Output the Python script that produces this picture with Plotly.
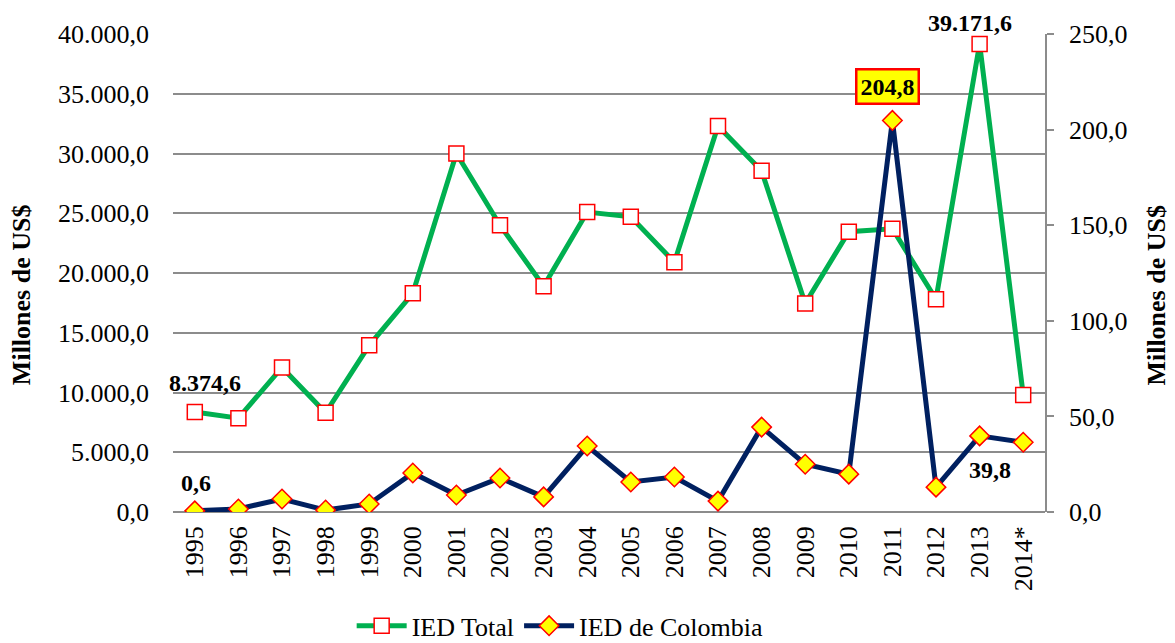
import plotly.graph_objects as go

years = ["1995", "1996", "1997", "1998", "1999", "2000", "2001", "2002", "2003", "2004",
         "2005", "2006", "2007", "2008", "2009", "2010", "2011", "2012", "2013", "2014*"]
ied_total = [8374.6, 7850, 12100, 8300, 13950, 18300, 30000, 24000, 18900, 25100,
             24700, 20900, 32300, 28550, 17450, 23460, 23700, 17800, 39171.6, 9800]
ied_colombia = [0.6, 1.6, 6.8, 1.0, 4.2, 20.4, 8.9, 17.8, 7.9, 34.5,
                15.7, 18.3, 5.7, 44.4, 25.0, 19.8, 204.8, 13.0, 39.8, 36.5]

left_ticks = [0, 5000, 10000, 15000, 20000, 25000, 30000, 35000, 40000]
right_ticks = [0, 50, 100, 150, 200, 250]

FONT = "Liberation Serif"
GRID = "#8c8c8c"
FS = 26

def fmt(v):
    s = f"{v:,.1f}"
    return s.replace(",", "X").replace(".", ",").replace("X", ".")

fig = go.Figure()
fig.add_trace(go.Scatter(
    x=years, y=ied_total, name="IED Total", mode="lines+markers",
    line=dict(color="#00B050", width=5),
    marker=dict(symbol="square", size=15, color="white", line=dict(color="#FF0000", width=1.5)),
    yaxis="y"))
fig.add_trace(go.Scatter(
    x=years, y=ied_colombia, name="IED de Colombia", mode="lines+markers",
    line=dict(color="#002060", width=5),
    marker=dict(symbol="diamond", size=15, color="#FFFF00", line=dict(color="#FF0000", width=1.5)),
    yaxis="y2"))

ann = []
afont = dict(family=FONT, size=24, color="black", weight="bold")
ann.append(dict(x=0, y=ied_total[0], xref="x", yref="y", text=fmt(ied_total[0]),
                showarrow=False, xshift=10, yshift=29, font=afont))
ann.append(dict(x=0, y=ied_colombia[0], xref="x", yref="y2", text=fmt(ied_colombia[0]),
                showarrow=False, xshift=1, yshift=28, font=afont))
ann.append(dict(x=18, y=ied_total[18], xref="x", yref="y", text=fmt(ied_total[18]),
                showarrow=False, xshift=-10, yshift=21, font=afont))
ann.append(dict(x=18, y=ied_colombia[18], xref="x", yref="y2", text=fmt(ied_colombia[18]),
                showarrow=False, xshift=10, yshift=-34, font=afont))
ann.append(dict(x=16, y=ied_colombia[16], xref="x", yref="y2", text=fmt(ied_colombia[16]),
                showarrow=False, xshift=-5, yshift=34, font=afont,
                bgcolor="#FFFF00", bordercolor="#FF0000", borderwidth=2.5, borderpad=3))
tfont = dict(family=FONT, size=FS, color="black", weight="bold")
ann.append(dict(x=-0.173, y=0.454, xref="paper", yref="paper", text="Millones de US$",
                xanchor="center", yanchor="middle",
                textangle=-90, showarrow=False, font=tfont))
ann.append(dict(x=1.128, y=0.454, xref="paper", yref="paper", text="Millones de US$",
                xanchor="center", yanchor="middle",
                textangle=-90, showarrow=False, font=tfont))

fig.update_layout(
    width=1167, height=635,
    margin=dict(l=165, r=130, t=26, b=131, autoexpand=False),
    paper_bgcolor="white", plot_bgcolor="white",
    font=dict(family=FONT, size=FS, color="black"),
    separators=",.",
    showlegend=True,
    legend=dict(orientation="h", x=0.444, xanchor="center", y=-0.238, yanchor="middle",
                font=dict(family=FONT, size=FS, color="black"), itemwidth=50,
                tracegroupgap=0, traceorder="normal"),
    xaxis=dict(type="category", range=[-0.5, 19.5], tickangle=-90, showgrid=False,
               showline=False, ticks="", automargin=False, ticklabelstandoff=8,
               tickfont=dict(family=FONT, size=FS, color="black")),
    yaxis=dict(range=[0, 40000], tickvals=left_ticks, tickformat=",.1f",
               showgrid=True, gridcolor=GRID, gridwidth=1.5,
               zeroline=True, zerolinecolor=GRID, zerolinewidth=1.5,
               showline=False, ticks="", ticklabelstandoff=23, automargin=False,
               tickfont=dict(family=FONT, size=FS, color="black")),
    yaxis2=dict(range=[0, 250], tickvals=right_ticks, tickformat=",.1f",
                overlaying="y", side="right", showgrid=False, zeroline=False,
                showline=True, linecolor=GRID, linewidth=1.5,
                ticks="outside", ticklen=7, tickcolor=GRID, tickwidth=1.5,
                ticklabelstandoff=10, automargin=False,
                tickfont=dict(family=FONT, size=FS, color="black")),
    annotations=ann,
)

fig.write_html("out.html")
